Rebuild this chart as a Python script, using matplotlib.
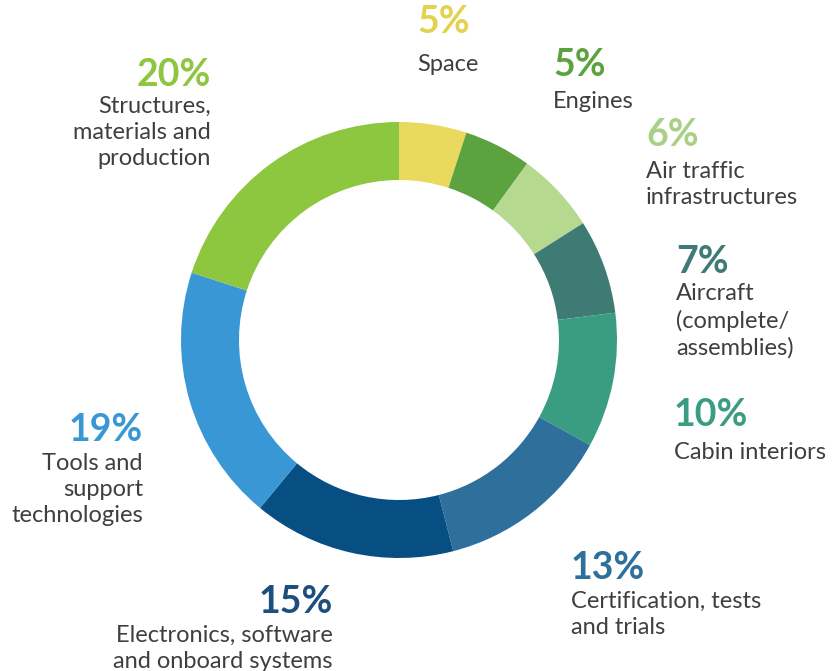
import matplotlib.pyplot as plt

# shares, clockwise from 12 o'clock
categories = ['Space', 'Engines', 'Air traffic\ninfrastructures',
              'Aircraft\n(complete/\nassemblies)', 'Cabin interiors',
              'Certification, tests\nand trials',
              'Electronics, software\nand onboard systems',
              'Tools and\nsupport\ntechnologies',
              'Structures,\nmaterials and\nproduction']
shares = [5, 5, 6, 7, 10, 13, 15, 19, 20]
colors = ['#E9DA5D', '#5CA340', '#B4D98F', '#3F7B75', '#3A9D82',
          '#2E6F9B', '#074F83', '#3A97D5', '#8DC63F']
pct_colors = ['#E3D24E', '#5CA340', '#A8D187', '#3F7B75', '#3A9D82',
              '#2E6F9B', '#1D4F7C', '#3A97D5', '#8DC63F']

# layout: x, y of percentage, y of first label line (pixels from top), alignment
label_pos = [(417, 22, 63, 'left'), (553, 65, 100, 'left'),
             (646, 135, 170, 'left'), (676, 262, 292, 'left'),
             (674, 415, 451, 'left'), (571, 568, 600, 'left'),
             (333, 602, 634, 'right'), (143, 430, 462, 'right'),
             (211, 75, 105, 'right')]

W, H = 833, 671
fig = plt.figure(figsize=(W / 100, H / 100), dpi=100)
ax = fig.add_axes([0, 0, 1, 1])

ax.pie(shares, colors=colors, startangle=90, counterclock=False,
       center=(399, H - 340), radius=218,
       wedgeprops=dict(width=58, linewidth=0))
ax.set_xlim(0, W)
ax.set_ylim(0, H)
ax.set_aspect('equal')
ax.axis('off')

font = ['Lato', 'DejaVu Sans']
for name, s, c, (x, yp, yl, ha) in zip(categories, shares, pct_colors, label_pos):
    ax.text(x, H - yp, f'{s}%', color=c, fontsize=27, fontweight='bold',
            ha=ha, va='center', family=font)
    ax.text(x, H - yl + 9, name, color='#3F3F3F', fontsize=17,
            ha=ha, va='top', linespacing=1.3, family=font)

fig.savefig('out.png', dpi=100, facecolor='white')
